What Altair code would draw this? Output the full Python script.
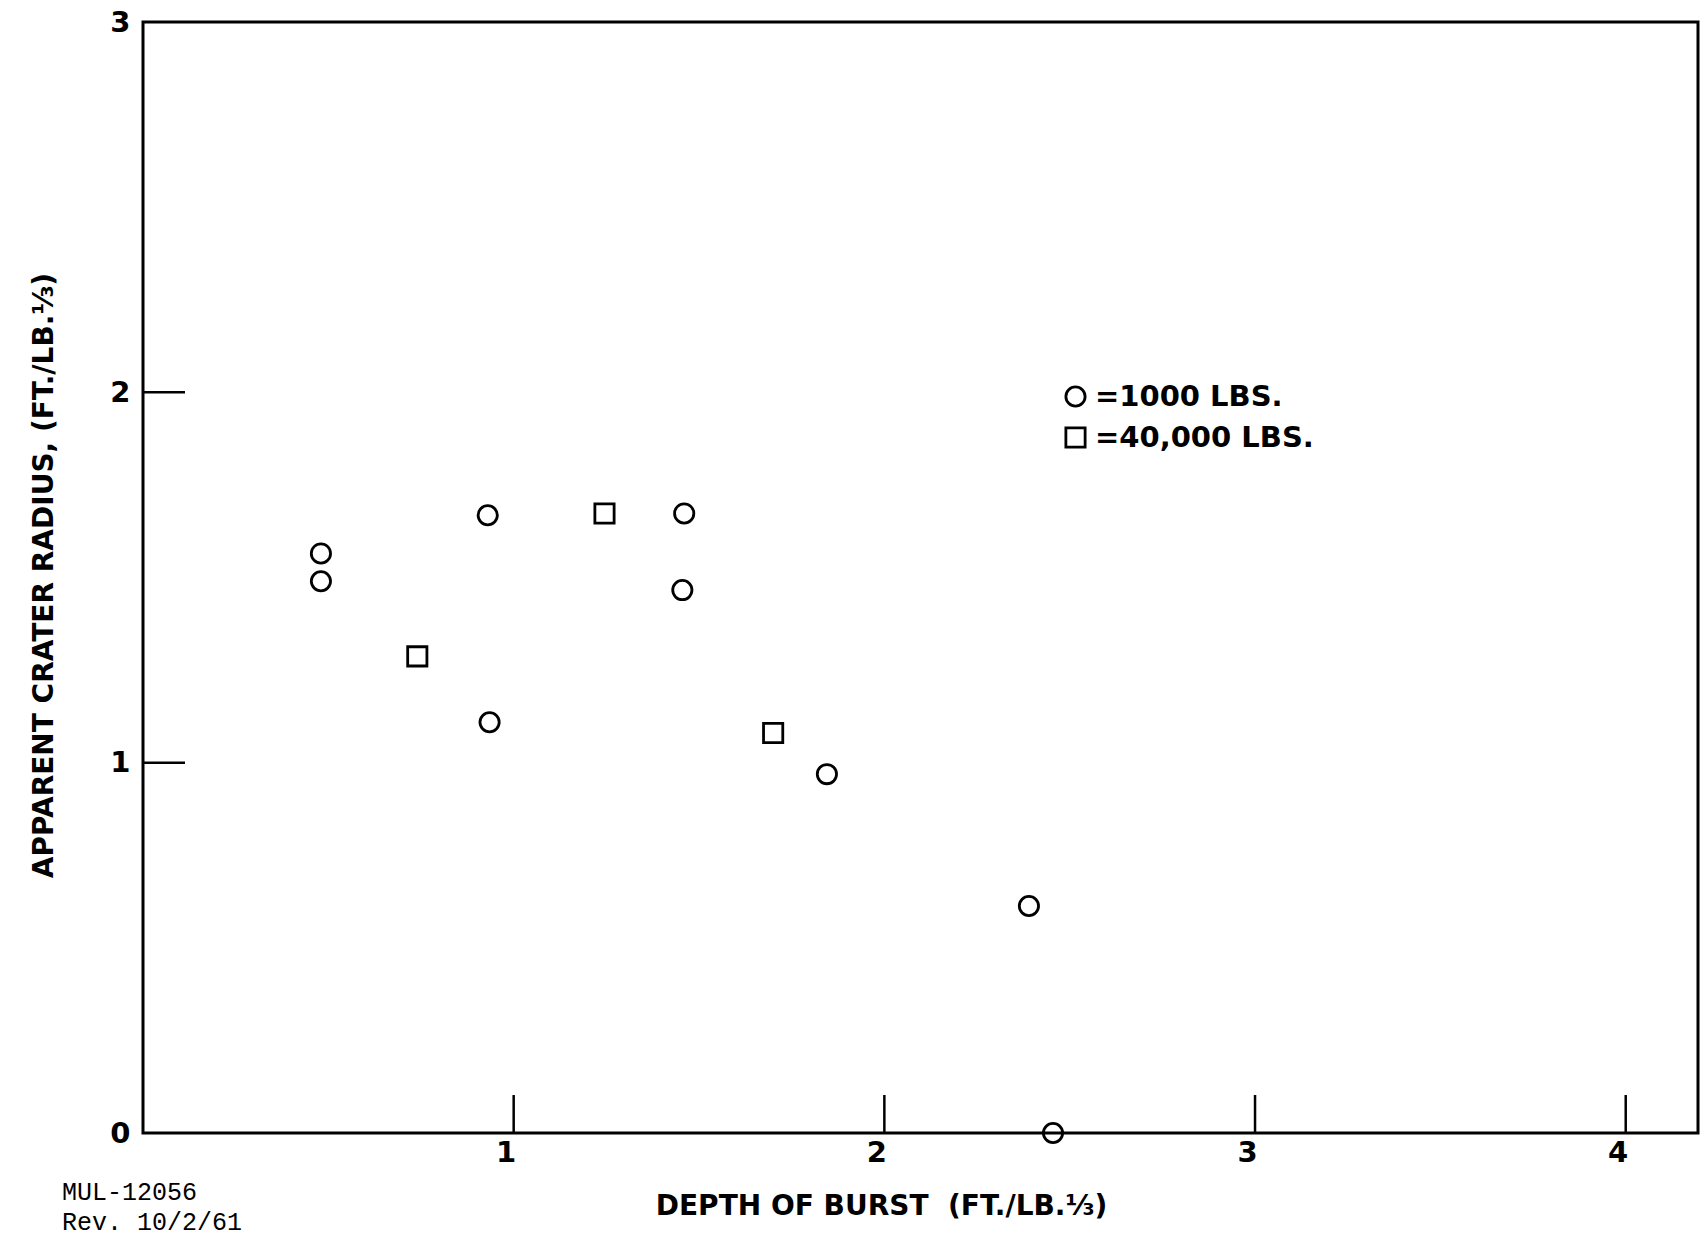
import altair as alt
import pandas as pd

# ---- data ----
circle_x = [0.48, 0.48, 0.93, 0.935, 1.46, 1.455, 1.845, 2.39, 2.455]
circle_y = [1.565, 1.49, 1.668, 1.109, 1.673, 1.466, 0.969, 0.613, 0.0]
square_x = [0.74, 1.245, 1.70]
square_y = [1.287, 1.673, 1.08]
series_names = ["1000 LBS.", "40,000 LBS."]

x_tick_values = [1, 2, 3, 4]
y_tick_values = [0, 1, 2, 3]
y_inner_ticks = [1, 2]
note_lines = ["MUL-12056", "Rev. 10/2/61"]
x_title = "DEPTH OF BURST \u00a0(FT./LB.⅓)"
y_title = "APPARENT CRATER RADIUS, (FT./LB.⅓)"

W, H = 1555, 1111
FONT = "DejaVu Sans"

points = pd.DataFrame({
    "x": circle_x + square_x,
    "y": circle_y + square_y,
    "series": [series_names[0]] * len(circle_x) + [series_names[1]] * len(square_x),
})

xscale = alt.Scale(domain=[0, 4.195], nice=False, zero=False)
yscale = alt.Scale(domain=[0, 3], nice=False, zero=False)

xaxis = alt.Axis(
    values=x_tick_values, ticks=False, domain=False, grid=False,
    labelFont=FONT, labelFontSize=29, labelFontWeight="bold", labelColor="black",
    labelPadding=5, labelOffset=-8,
    title=x_title, titleFont=FONT, titleFontSize=28, titleFontWeight="bold",
    titleColor="black", titleX=738, titleY=73, titleBaseline="middle",
    titleAlign="center")
yaxis = alt.Axis(
    values=y_tick_values, ticks=False, domain=False, grid=False,
    labelFont=FONT, labelFontSize=29, labelFontWeight="bold", labelColor="black",
    labelPadding=13,
    title=y_title, titleFont=FONT, titleFontSize=28, titleFontWeight="bold",
    titleColor="black", titleX=-99, titleY=553, titleAngle=270,
    titleBaseline="middle", titleAlign="center")

pts = alt.Chart(points).mark_point(
    filled=False, stroke="black", strokeWidth=2.8, opacity=1, size=370
).encode(
    x=alt.X("x:Q", scale=xscale, axis=xaxis, title=x_title),
    y=alt.Y("y:Q", scale=yscale, axis=yaxis, title=y_title),
    shape=alt.Shape("series:N",
                    scale=alt.Scale(domain=series_names, range=["circle", "square"]),
                    legend=alt.Legend(
                        title=None, orient="none", legendX=918, legendY=360,
                        padding=0, rowPadding=10, labelOffset=5, labelLimit=500,
                        labelFont=FONT, labelFontSize=29, labelFontWeight="bold",
                        labelColor="black", labelExpr="'=' + datum.label",
                        symbolSize=370, symbolStrokeWidth=2.8,
                        symbolStrokeColor="black")),
)

xt = alt.Chart(pd.DataFrame({"x": x_tick_values})).mark_rule(
    color="black", strokeWidth=2.5
).encode(
    x=alt.X("x:Q", scale=xscale, axis=xaxis, title=x_title),
    y=alt.value(H),
    y2=alt.value(H - 38),
)

yt = alt.Chart(pd.DataFrame({"y": y_inner_ticks})).mark_rule(
    color="black", strokeWidth=2.5
).encode(
    y=alt.Y("y:Q", scale=yscale, axis=yaxis, title=y_title),
    x=alt.value(0),
    x2=alt.value(42),
)

chart = alt.layer(pts, xt, yt).properties(
    width=W, height=H,
    autosize=alt.AutoSizeParams(type="none"),
    padding={"left": 143, "top": 22, "right": 2, "bottom": 108},
    title=alt.TitleParams(
        text=note_lines, orient="bottom", anchor="start", frame="group",
        dx=-81, dy=-44, font="Liberation Mono", fontSize=25, fontWeight="normal",
        lineHeight=30, color="black"),
    background="white",
).configure_view(stroke="black", strokeWidth=3)

chart.save("out.html", embed_options={"renderer": "svg", "actions": False})
